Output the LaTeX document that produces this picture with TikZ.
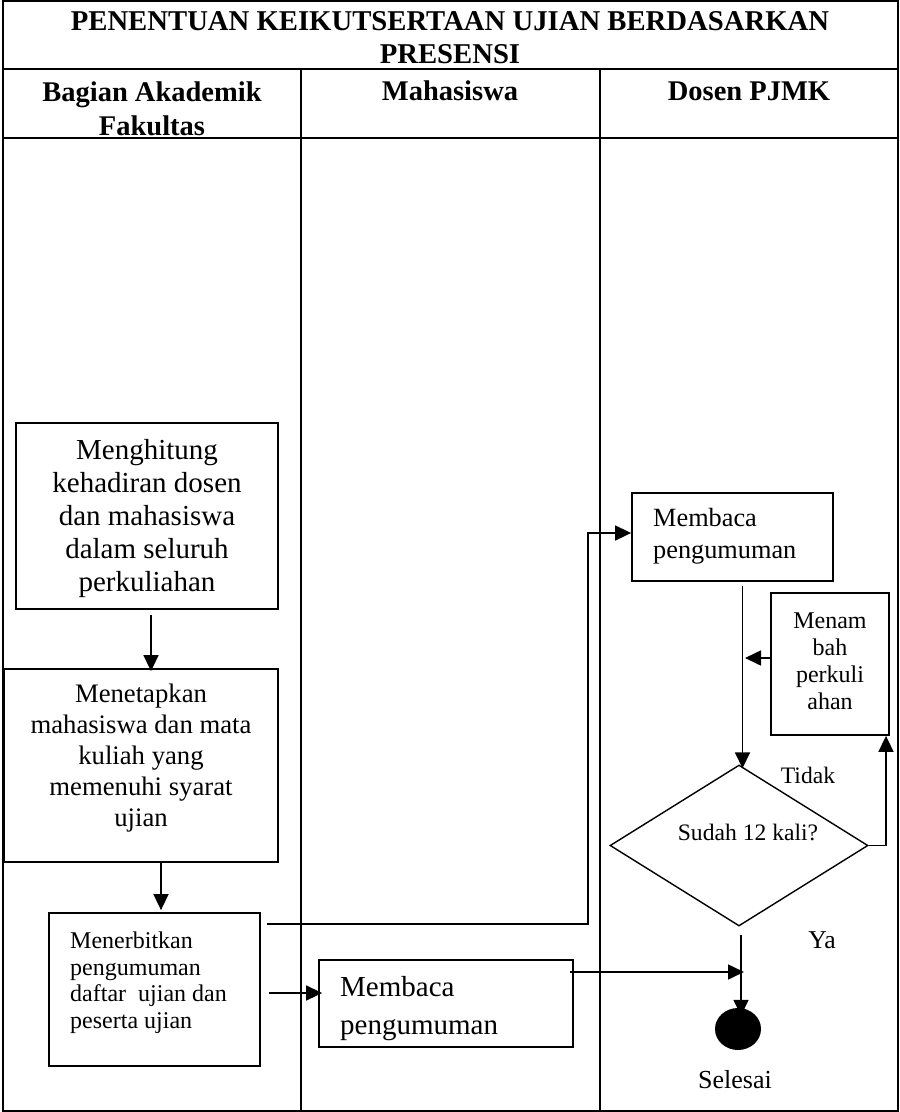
\documentclass[tikz,border=0pt]{standalone}
\usepackage{fontspec}
\setmainfont{Liberation Serif}
\usetikzlibrary{arrows.meta,shapes.geometric}
\begin{document}
\begin{tikzpicture}[x=1pt,y=-1pt,
  tbl/.style={line width=2.2pt},
  boxs/.style={draw,line width=1.8pt,inner sep=0pt},
  conn/.style={line width=1.6pt},
  arr/.style={conn,-{Triangle[length=16pt,width=15pt]}},
  txt/.style={inner sep=0pt}]
\useasboundingbox (0,0) rectangle (900,1112);
% table
\draw[tbl] (3,1.2) rectangle (898,1110.8);
\draw[tbl] (3,69) -- (898,69);
\draw[tbl] (3,138) -- (898,138);
\draw[tbl] (301,69) -- (301,1111);
\draw[tbl] (600,69) -- (600,1111);
% headers
\node[txt,align=center,font=\fontsize{28.7}{33}\selectfont\bfseries] (title) at (450,38) {PENENTUAN KEIKUTSERTAAN UJIAN BERDASARKAN\\PRESENSI};
\node[txt,align=center,font=\fontsize{28.5}{34}\selectfont\bfseries] (h1) at (152,109) {Bagian Akademik\\Fakultas};
\node[txt,anchor=base,font=\fontsize{28.5}{34}\selectfont\bfseries] (h2) at (450,100) {Mahasiswa};
\node[txt,anchor=base,font=\fontsize{28.5}{34}\selectfont\bfseries] (h3) at (749,100) {Dosen PJMK};
% boxes
\node[boxs,minimum width=262pt,minimum height=186pt] (m1) at (147,516) {};
\node[txt,align=center,font=\fontsize{29}{33}\selectfont] (t1) at (147,519) {Menghitung\\kehadiran dosen\\dan mahasiswa\\dalam seluruh\\perkuliahan};
\node[boxs,minimum width=274pt,minimum height=193pt] (m2) at (141,765.5) {};
\node[txt,align=center,font=\fontsize{26.7}{31}\selectfont] (t2) at (141,758.5) {Menetapkan\\mahasiswa dan mata\\kuliah yang\\memenuhi syarat\\ujian};
\node[boxs,minimum width=211pt,minimum height=153pt] (m3) at (154.5,989.5) {};
\node[txt,align=left,anchor=west,font=\fontsize{24}{26.5}\selectfont] (t3) at (70,982.5) {Menerbitkan\\pengumuman\\daftar\ \ ujian dan\\peserta ujian};
\node[boxs,minimum width=254pt,minimum height=87pt] (m4) at (446,1003.5) {};
\node[txt,align=left,anchor=west,font=\fontsize{29}{38}\selectfont] (t4) at (340,1009) {Membaca\\pengumuman};
\node[boxs,minimum width=201pt,minimum height=88pt] (m5) at (732.5,537) {};
\node[txt,align=left,anchor=west,font=\fontsize{26.3}{32}\selectfont] (t5) at (653,536) {Membaca\\pengumuman};
\node[boxs,minimum width=118pt,minimum height=142pt] (m6) at (830,664) {};
\node[txt,align=center,font=\fontsize{24}{27}\selectfont] (t6) at (830,661) {Menam\\bah\\perkuli\\ahan};
% decision
\node[diamond,draw,line width=1.4pt,inner sep=0pt,minimum width=258pt,minimum height=161pt] (d) at (739,845.5) {};
\node[txt,font=\fontsize{23.6}{28}\selectfont] (dt) at (748,832) {Sudah 12 kali?};
\node[txt,font=\fontsize{23.6}{28}\selectfont] (tidak) at (808,775) {Tidak};
\node[txt,font=\fontsize{25.7}{30}\selectfont] (ya) at (822,940) {Ya};
% end
\node[ellipse,fill=black,inner sep=0pt,minimum width=46pt,minimum height=42pt] (e) at (738,1029) {};
\node[txt,font=\fontsize{26}{30}\selectfont] (sel) at (735,1080) {Selesai};
% coordinates
\coordinate (j2) at (588,533);
\coordinate (k1) at (886,845.5);
\coordinate (v1) at (745,658);
\coordinate (v2) at (744,972);
% connectors
\draw[arr,shorten >=2pt] ([shift={(4,5)}]m1.south) -- ([shift={(4,5)}]m1.south |- m2.north);
\draw[arr,shorten >=2pt] ([shift={(20,0)}]m2.south) -- ([shift={(20,0)}]m2.south |- m3.north);
\draw[arr] ([shift={(6,12)}]m3.north east) -| (j2) -- (j2 -| m5.west);
\draw[arr,shorten >=4pt] ([shift={(8,3.5)}]m3.east) -- ([shift={(8,3.5)}]m3.east -| m4.west);
\draw[arr] ([shift={(-4,-31.5)}]m4.east) -- (v2);
\draw[arr] ([shift={(10,4)}]m5.south) -- ([shift={(10,4)}]m5.south |- d.north);
\draw[arr] ([shift={(0,-6)}]m6.west) -- (v1);
\draw[arr] (d.east) -- (k1) -- (k1 |- m6.south);
\draw[arr] ([shift={(2,8)}]d.south) -- ([shift={(2,8)}]d.south |- e.north);
\end{tikzpicture}
\end{document}
